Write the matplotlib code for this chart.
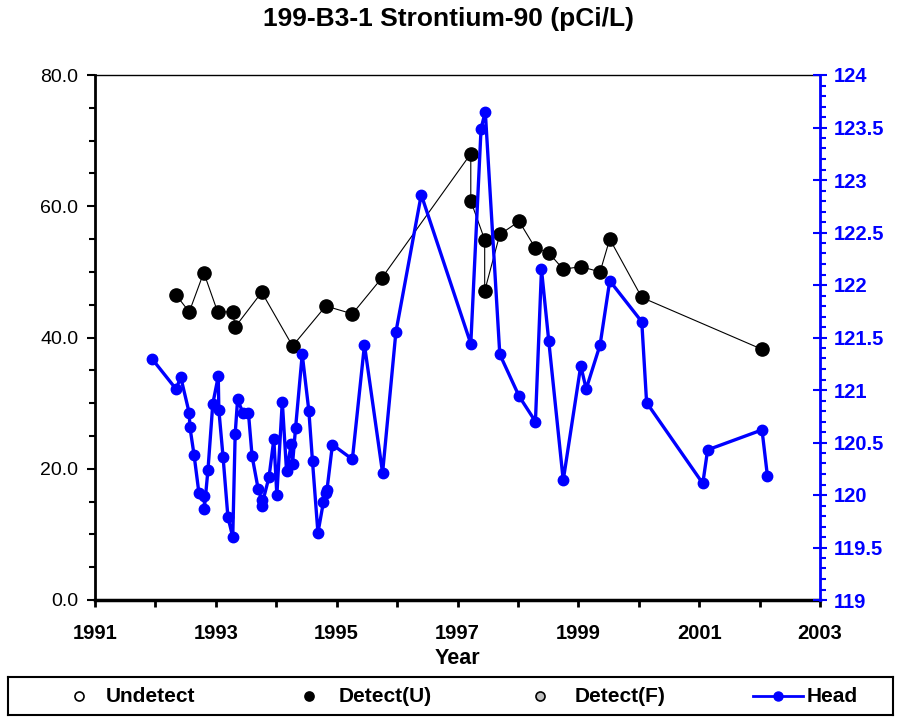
import numpy as np
import matplotlib
matplotlib.use("Agg")
import matplotlib.pyplot as plt
from matplotlib.ticker import MultipleLocator, FuncFormatter
from matplotlib.lines import Line2D

plt.rcParams['font.family'] = ['Liberation Sans', 'DejaVu Sans']

# detected Sr-90 results (pCi/L)
det_year = [1992.34, 1992.56, 1992.80, 1993.03, 1993.28, 1993.32, 1993.76, 1994.27,
            1994.82, 1995.26, 1995.75, 1997.22, 1997.22, 1997.45, 1997.45, 1997.70,
            1998.02, 1998.29, 1998.51, 1998.75, 1999.04, 1999.36, 1999.52, 2000.05,
            2002.04]
det_val = [46.5, 43.9, 49.9, 43.9, 43.9, 41.6, 46.9, 38.7,
           44.8, 43.6, 49.1, 68.0, 60.8, 54.9, 47.1, 55.7,
           57.7, 53.6, 52.9, 50.4, 50.8, 50.0, 55.0, 46.1,
           38.2]

# water level head
head_year = [1991.94, 1992.34, 1992.42, 1992.56, 1992.57, 1992.64, 1992.72, 1992.81,
             1992.81, 1992.87, 1992.95, 1993.04, 1993.05, 1993.12, 1993.20, 1993.28,
             1993.32, 1993.36, 1993.45, 1993.54, 1993.60, 1993.70, 1993.76, 1993.76,
             1993.88, 1993.96, 1994.01, 1994.10, 1994.17, 1994.25, 1994.27, 1994.32,
             1994.43, 1994.54, 1994.60, 1994.69, 1994.78, 1994.82, 1994.84, 1994.93,
             1995.26, 1995.46, 1995.76, 1995.98, 1996.40, 1997.22, 1997.39, 1997.46,
             1997.70, 1998.02, 1998.29, 1998.39, 1998.51, 1998.75, 1999.04, 1999.13,
             1999.36, 1999.52, 2000.05, 2000.13, 2001.06, 2001.14, 2002.04, 2002.13]
head_val = [121.30, 121.01, 121.12, 120.78, 120.65, 120.38, 120.02, 119.99,
            119.87, 120.24, 120.87, 121.13, 120.81, 120.36, 119.79, 119.60,
            120.58, 120.91, 120.78, 120.78, 120.37, 120.06, 119.95, 119.90,
            120.17, 120.53, 120.00, 120.89, 120.23, 120.49, 120.30, 120.64,
            121.34, 120.80, 120.32, 119.64, 119.93, 120.02, 120.05, 120.48,
            120.34, 121.43, 120.21, 121.55, 122.86, 121.44, 123.49, 123.65,
            121.34, 120.94, 120.70, 122.15, 121.47, 120.14, 121.23, 121.01,
            121.43, 122.04, 121.65, 120.88, 120.11, 120.43, 120.62, 120.18]

legend_labels = ["Undetect", "Detect(U)", "Detect(F)", "Head"]

fig = plt.figure(figsize=(9.01, 7.19), dpi=100)
ax = fig.add_axes([95/901, 1-600/719, 725/901, 525/719])

ax.plot(det_year, det_val, color="black", lw=0.8, marker="o", ms=9.5,
        mfc="black", mec="black", zorder=3)
ax.set_xlim(1991, 2003)
ax.set_ylim(0, 80)
ax.xaxis.set_major_locator(MultipleLocator(1))
ax.xaxis.set_major_formatter(FuncFormatter(lambda v, p: "%d" % round(v) if round(v) % 2 == 1 else ""))
ax.yaxis.set_major_locator(MultipleLocator(20))
ax.yaxis.set_minor_locator(MultipleLocator(5))
ax.yaxis.set_major_formatter(FuncFormatter(lambda v, p: "%.1f" % v))
ax.tick_params(axis="x", direction="out", length=5, width=2, labelsize=14.5, pad=12)
ax.tick_params(axis="y", which="major", direction="out", length=6, width=1.5, labelsize=14, pad=6)
ax.tick_params(axis="y", which="minor", direction="out", length=4, width=1.5)
for lab in ax.get_xticklabels():
    lab.set_fontweight("bold")
ax.spines["left"].set_linewidth(2)
ax.spines["bottom"].set_linewidth(2.5)
ax.spines["top"].set_linewidth(1)
ax.spines["right"].set_visible(False)
ax.set_xlabel("Year", fontsize=15.5, fontweight="bold", labelpad=4)
ax.set_title("199-B3-1 Strontium-90 (pCi/L)", fontsize=19, fontweight="bold", pad=35, x=0.487)

ax2 = ax.twinx()
ax2.plot(head_year, head_val, color="blue", lw=2.4, marker="o", ms=7.5, zorder=4)
ax2.set_ylim(119, 124)
ax2.yaxis.set_major_locator(MultipleLocator(0.5))
ax2.yaxis.set_minor_locator(MultipleLocator(0.1))
ax2.yaxis.set_major_formatter(FuncFormatter(lambda v, p: ("%g" % round(v, 1))))
ax2.tick_params(axis="y", which="major", direction="inout", length=10, width=1.5,
                colors="blue", labelsize=14.5, pad=5)
ax2.tick_params(axis="y", which="minor", direction="out", length=4, width=1.5, colors="blue")
for lab in ax2.get_yticklabels():
    lab.set_fontweight("bold")
ax2.spines["right"].set_color("blue")
ax2.spines["right"].set_linewidth(2)
for s in ["left", "top", "bottom"]:
    ax2.spines[s].set_visible(False)

# legend box along the bottom
lax = fig.add_axes([8/901, 1-715/719, 885/901, 38/719])
lax.set_xlim(0, 885)
lax.set_ylim(0, 1)
lax.set_xticks([])
lax.set_yticks([])
for s in lax.spines.values():
    s.set_linewidth(1.5)
mk = [("o", "white"), ("o", "black"), ("o", "#c0c0c0")]
xs = [71, 301, 532]
txs = [98, 331, 567]
for (m, fc), x0, xt, txt in zip(mk, xs, txs, legend_labels[:3]):
    lax.add_line(Line2D([x0], [0.5], marker=m, ms=6.5, mfc=fc, mec="black", mew=1.2, ls="none"))
    lax.text(xt, 0.5, txt, fontsize=15, fontweight="bold", va="center")
lax.add_line(Line2D([745, 795], [0.5, 0.5], color="blue", lw=2))
lax.add_line(Line2D([770], [0.5], marker="o", ms=6.5, color="blue", ls="none"))
lax.text(799, 0.5, legend_labels[3], fontsize=15, fontweight="bold", va="center")

fig.savefig("out.png", dpi=100)
